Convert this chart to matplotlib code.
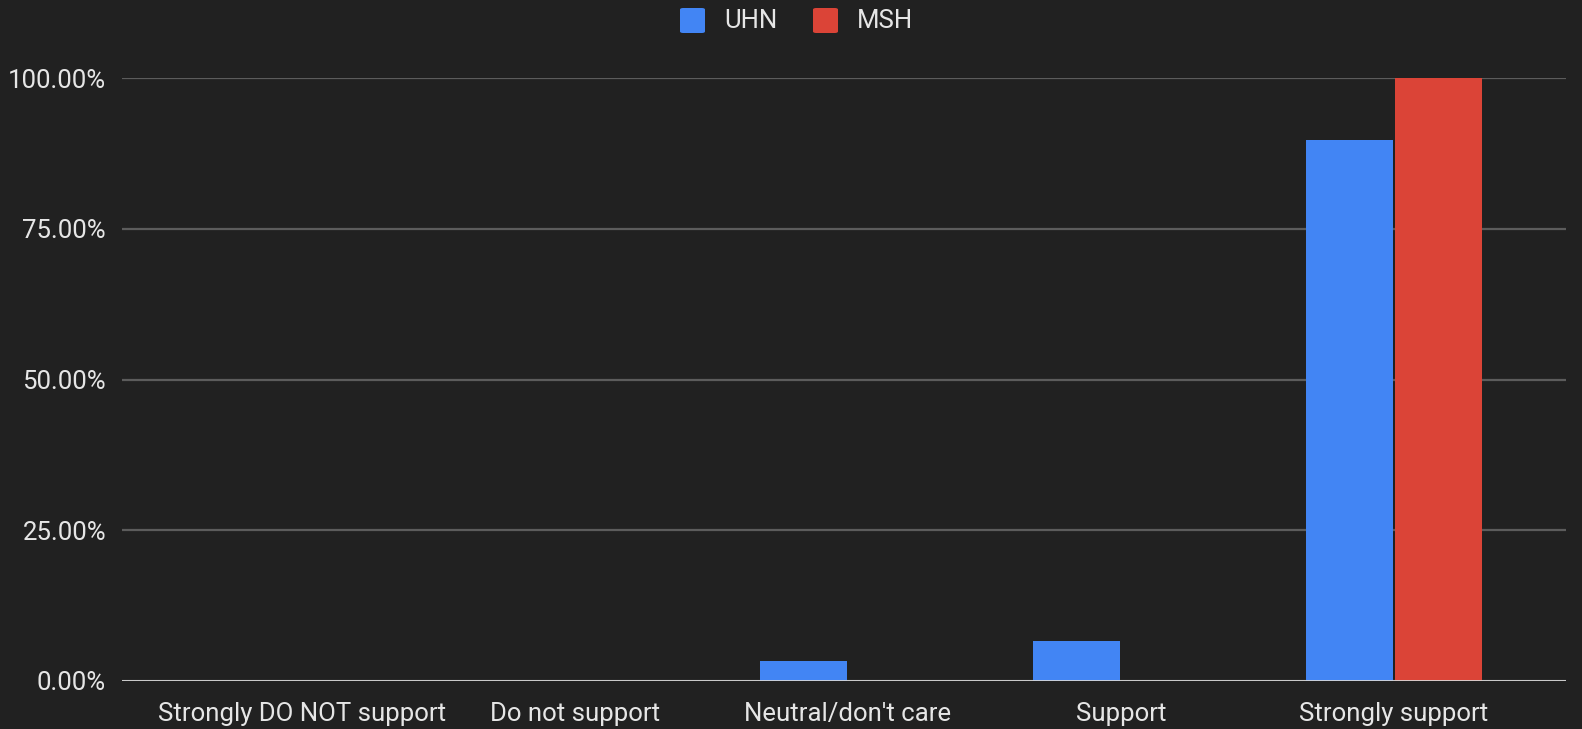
import matplotlib
matplotlib.use("Agg")
import matplotlib.pyplot as plt
from matplotlib.patches import FancyBboxPatch
from matplotlib.ticker import PercentFormatter
import numpy as np

categories = ["Strongly DO NOT support", "Do not support", "Neutral/don't care", "Support", "Strongly support"]
uhn = [0.0, 0.0, 3.33, 6.67, 89.7]
msh = [0.0, 0.0, 0.0, 0.0, 100.0]
series_names = ["UHN", "MSH"]
colors = ["#4285F4", "#DB4437"]
yticks = [0, 25, 50, 75, 100]

bg = "#212121"
txt = "#e6e6e6"
plt.rcParams['font.family'] = ['Roboto', 'DejaVu Sans']
FS = 18.5

W, H = 1582, 729
fig = plt.figure(figsize=(W / 100, H / 100), dpi=100, facecolor=bg)
ax = fig.add_axes([122 / W, (H - 681) / H, (1566 - 122) / W, (681 - 78) / H])
ax.set_facecolor(bg)

x = np.arange(len(categories))
bw = 0.319
gap = 0.004
ax.bar(x - gap - bw / 2, uhn, width=bw, color=colors[0], zorder=3)
ax.bar(x + gap + bw / 2, msh, width=bw, color=colors[1], zorder=3)

ax.set_xlim(-0.659, 4.63)
ax.set_ylim(0, 100)
ax.set_yticks(yticks)
ax.yaxis.set_major_formatter(PercentFormatter(100, decimals=2))
ax.set_xticks(x)
ax.set_xticklabels(categories)

for s in ax.spines.values():
    s.set_visible(False)
ax.grid(axis='y', color="#5c5c5c", linewidth=1.6, zorder=0)
ax.axhline(0, color="#d8d8d8", linewidth=2, zorder=4)
ax.tick_params(axis='both', length=0, colors=txt, labelsize=FS)
ax.tick_params(axis='y', pad=11.5)
ax.tick_params(axis='x', pad=15)

# legend
def px2fig(px, py):
    return px / W, (H - py) / H

sq = 25
items = [(680, 724), (813, 857)]
for (sx, tx), name, c in zip(items, series_names, colors):
    fx, fy = px2fig(sx, 8 + sq)
    p = FancyBboxPatch((fx, fy), sq / W, sq / H, boxstyle="round,pad=0,rounding_size=0.002",
                       transform=fig.transFigure, facecolor=c, edgecolor='none')
    fig.add_artist(p)
    tfx, tfy = px2fig(tx, 20.5)
    fig.text(tfx, tfy, name, color=txt, fontsize=FS, va='center', ha='left')

fig.savefig("out.png", dpi=100, facecolor=bg)
